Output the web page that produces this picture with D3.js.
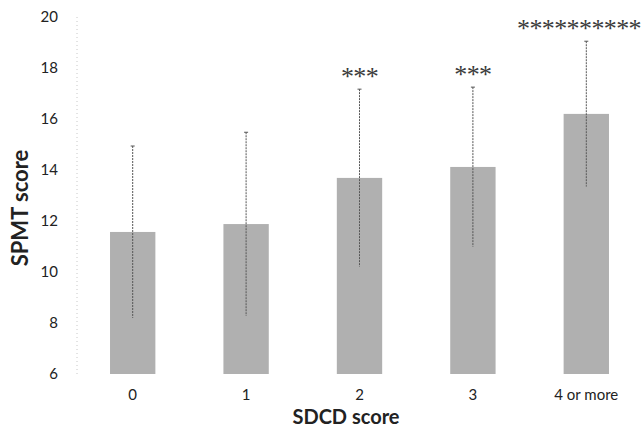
<!DOCTYPE html>
<html>
<head>
<meta charset="utf-8">
<script src="https://cdn.jsdelivr.net/npm/d3@7"></script>
<style>
  body { margin: 0; background: #fff; }
  svg { display: block; }
</style>
</head>
<body>
<div id="chart"></div>
<script>
// values
const categories = ['0', '1', '2', '3', '4 or more'];
const means = [11.57, 11.88, 13.69, 14.12, 16.2];
const sds = [3.37, 3.6, 3.48, 3.13, 2.85];
const stars = ['', '', '***', '***', '**********'];
const yTicks = [6, 8, 10, 12, 14, 16, 18, 20];

const width = 642, height = 427;

const svg = d3.select('#chart').append('svg')
    .attr('width', width)
    .attr('height', height);

const x = d3.scaleBand()
    .domain(categories)
    .range([76, 643])
    .paddingInner(0.6)
    .paddingOuter(0.3);

const y = d3.scaleLinear()
    .domain([6, 20])
    .range([374, 17]);

// faint dotted axis line
svg.append('line')
    .attr('x1', 77).attr('x2', 77)
    .attr('y1', y(20)).attr('y2', y(6))
    .attr('stroke', '#c8c8c8')
    .attr('stroke-dasharray', '1,3');

// y tick labels
svg.selectAll('.ytick')
    .data(yTicks)
    .enter()
    .append('text')
    .attr('x', 58)
    .attr('y', d => y(d))
    .attr('dy', '0.35em')
    .attr('text-anchor', 'end')
    .attr('font-family', 'Lato, sans-serif')
    .attr('font-size', 15)
    .attr('fill', '#222')
    .text(d => d);

// bars
svg.selectAll('.bar')
    .data(categories)
    .enter()
    .append('rect')
    .attr('x', d => x(d))
    .attr('y', (d, i) => y(means[i]))
    .attr('width', x.bandwidth())
    .attr('height', (d, i) => y(6) - y(means[i]))
    .attr('fill', '#b0b0b0');

// error bars (mean +/- sd)
const cx = d => x(d) + x.bandwidth() / 2;
svg.selectAll('.err')
    .data(categories)
    .enter()
    .append('line')
    .attr('x1', cx).attr('x2', cx)
    .attr('y1', (d, i) => y(means[i] + sds[i]))
    .attr('y2', (d, i) => y(means[i] - sds[i]))
    .attr('stroke', '#555')
    .attr('stroke-width', 1)
    .attr('stroke-dasharray', '2,1');

svg.selectAll('.cap')
    .data(categories)
    .enter()
    .append('line')
    .attr('x1', d => cx(d) - 2).attr('x2', d => cx(d) + 2)
    .attr('y1', (d, i) => y(means[i] + sds[i]))
    .attr('y2', (d, i) => y(means[i] + sds[i]))
    .attr('stroke', '#555');

// significance stars, nudged left if they would run past the edge
svg.selectAll('.stars')
    .data(categories)
    .enter()
    .append('text')
    .attr('x', cx)
    .attr('y', (d, i) => y(means[i] + sds[i]) - 4)
    .attr('text-anchor', 'middle')
    .attr('font-family', 'Liberation Serif, serif')
    .attr('font-size', 26)
    .attr('letter-spacing', -0.6)
    .attr('fill', '#3a3a3a')
    .text((d, i) => stars[i])
    .each(function(d) {
        const w = this.getComputedTextLength();
        const c = Math.min(cx(d), width - 1 - w / 2);
        d3.select(this).attr('x', c);
    });

// x tick labels
svg.selectAll('.xtick')
    .data(categories)
    .enter()
    .append('text')
    .attr('x', cx)
    .attr('y', 400)
    .attr('text-anchor', 'middle')
    .attr('font-family', 'Lato, sans-serif')
    .attr('font-size', 15)
    .attr('fill', '#222')
    .text(d => d);

// axis titles
svg.append('text')
    .attr('x', 346)
    .attr('y', 424)
    .attr('text-anchor', 'middle')
    .attr('font-family', 'Lato, sans-serif')
    .attr('font-weight', 'bold')
    .attr('font-size', 20)
    .attr('fill', '#222')
    .text('SDCD score');

svg.append('text')
    .attr('transform', 'translate(28,208) rotate(-90)')
    .attr('text-anchor', 'middle')
    .attr('font-family', 'Lato, sans-serif')
    .attr('font-weight', 'bold')
    .attr('font-size', 22)
    .attr('fill', '#222')
    .text('SPMT score');
</script>
</body>
</html>
